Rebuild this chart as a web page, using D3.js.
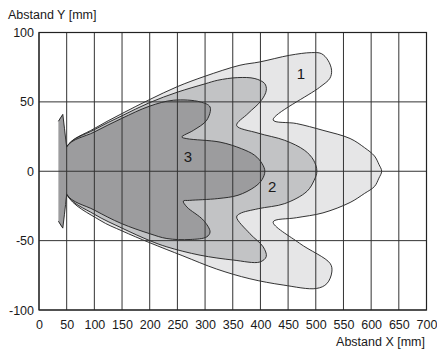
<!DOCTYPE html>
<html><head><meta charset="utf-8">
<script src="https://cdn.jsdelivr.net/npm/d3@7"></script>
<style>
html,body{margin:0;padding:0;background:#fff;}
text{font-family:"Liberation Sans",Arial,Helvetica,sans-serif;fill:#1a1a1a;}
</style></head>
<body>
<svg id="chart" width="437" height="354"></svg>
<script>
const xTicks = [0,50,100,150,200,250,300,350,400,450,500,550,600,650,700];
const yTicks = [-100,-50,0,50,100];
const xTitle = "Abstand X [mm]";
const yTitle = "Abstand Y [mm]";

// outline of zone 1 (lightest)
const zone1 = [
 [50,17.5],[100,30.8],[150,41.6],[200,51.7],[250,61],[300,68.5],[363,76.4],[399,78.8],[453,83.6],
 [492,85.5],[510,84.8],[522,80],[528.5,72.8],[525.5,67],[507,60.5],[423,37],
 [465,34.4],[513,29.5],[562,23.6],[588,17],[606,11],[614,5],[619,0],
 [614,-5],[606,-11],[588,-16],[562,-22.5],[513,-30],[465,-33.5],[423,-36.5],
 [471,-52],[526,-66.5],[529,-72.6],[520,-81],[501,-84.5],[441,-82],[381,-77.5],[321,-70.5],
 [260,-61],[200,-51.5],[150,-43],[110,-35.3],[50,-16.5]
];
// outline of zone 2 (middle)
const zone2 = [
 [50,17.5],[100,30],[150,40],[200,49.5],[250,57],[300,63],[323,65.6],[359,67.5],[390,66.8],
 [407.7,63.2],[410.6,58.4],[401.6,51],[377.5,41.6],[357,33],
 [395.6,27.5],[443.8,22.3],[480,15],[496,8],[502,0],
 [497,-6.5],[484,-14.5],[444,-23.3],[396,-27],[363,-30.5],[357,-33],
 [381,-45],[405,-54.5],[410.5,-61.5],[399,-65.4],[351,-64],[291,-60.5],[231,-54.5],
 [200,-50],[150,-41],[100,-31],[50,-16.5]
];
// outline of zone 3 (darkest)
const zone3 = [
 [50,17.5],[100,28.3],[149,38],[199,46.8],[243,51.2],[291,50],[309,46.3],[303,36.8],
 [279,29.5],[258,24.7],[267,23.5],[327,21],[365.5,16.3],[389.6,11.5],[403,5.5],[408,0],
 [403,-6],[389.6,-11.3],[359.5,-17.3],[323,-19.7],[272,-21],[260.7,-21.5],[267,-25.7],
 [297,-35.3],[309,-43.7],[303,-47.3],[273,-49.2],[231,-48.5],[200,-45],[149,-37.7],
 [100,-28],[50,-16.5]
];
// small stub of zone 3 left of x = 50
const stub = [
 [50,17.5],[48,24],[46,31],[43,41],[38,38.5],[35,36],[35,-36],[38,-38.5],[43,-41],[46,-31],[48,-24],[50,-16.5]
];
const flagTop = [[50,17.5],[48,24],[46,31],[43,41],[35,36]];
const flagBottom = [[50,-16.5],[48,-24],[46,-31],[43,-41],[35,-36]];

const zoneNames = ["1","2","3"];
const zoneLabelPos = [[473,70.5],[421,-11],[269,10.5]];
const zoneColors = ["#e6e6e7","#c2c3c5","#9c9c9e"];

const svg = d3.select("#chart");
const x = d3.scaleLinear().domain([0,700]).range([39,426.5]);
const y = d3.scaleLinear().domain([-100,100]).range([310,32.5]);

const gen = d3.line().x(d=>x(d[0])).y(d=>y(d[1])).curve(d3.curveCatmullRomClosed.alpha(0.5));
const lin = d3.line().x(d=>x(d[0])).y(d=>y(d[1]));

[zone1,zone2,zone3].forEach((z,i)=>{
  svg.append("path").attr("d",gen(z)).attr("fill",zoneColors[i])
     .attr("stroke","#1e1e1e").attr("stroke-width",0.9).attr("stroke-linejoin","round");
});
svg.append("path").attr("d",lin(stub)+"Z").attr("fill",zoneColors[2]).attr("stroke","none");
[flagTop,flagBottom].forEach(f=>{
  svg.append("path").attr("d",lin(f)).attr("fill","none").attr("stroke","#1e1e1e").attr("stroke-width",0.9);
});

// grid on top
const grid = svg.append("g");
grid.selectAll("line.v").data(xTicks).join("line")
  .attr("x1",d=>x(d)).attr("x2",d=>x(d)).attr("y1",y(100)).attr("y2",y(-100))
  .attr("stroke","#333").attr("stroke-width",1);
grid.selectAll("line.h").data(yTicks).join("line")
  .attr("x1",x(0)).attr("x2",x(700)).attr("y1",d=>y(d)).attr("y2",d=>y(d))
  .attr("stroke","#333").attr("stroke-width",1);
svg.append("rect").attr("x",x(0)).attr("y",y(100)).attr("width",x(700)-x(0)).attr("height",y(-100)-y(100))
  .attr("fill","none").attr("stroke","#222").attr("stroke-width",1.2);

// axes labels
const fmt = d => String(d);
const xa = d3.axisBottom(x).tickValues(xTicks).tickFormat(fmt).tickSize(0).tickPadding(10);
const gx = svg.append("g").attr("transform",`translate(0,${y(-100)})`).call(xa);
gx.select(".domain").remove();
gx.selectAll("text").style("font-size","12.5px").style("font-family","Liberation Sans, Arial, sans-serif").attr("fill","#1a1a1a");

const ya = d3.axisLeft(y).tickValues(yTicks).tickFormat(fmt).tickSize(0).tickPadding(5);
const gy = svg.append("g").attr("transform",`translate(${x(0)},0)`).call(ya);
gy.select(".domain").remove();
gy.selectAll("text").style("font-size","12.5px").style("font-family","Liberation Sans, Arial, sans-serif").attr("fill","#1a1a1a");

svg.append("text").attr("x",8).attr("y",19).style("font-size","12.5px").text(yTitle);
svg.append("text").attr("x",425).attr("y",346).attr("text-anchor","end").style("font-size","12.5px").text(xTitle);

zoneNames.forEach((n,i)=>{
  svg.append("text").attr("x",x(zoneLabelPos[i][0])).attr("y",y(zoneLabelPos[i][1]))
    .attr("text-anchor","middle").attr("dominant-baseline","central")
    .style("font-size","15px").text(n);
});
</script>
</body></html>
